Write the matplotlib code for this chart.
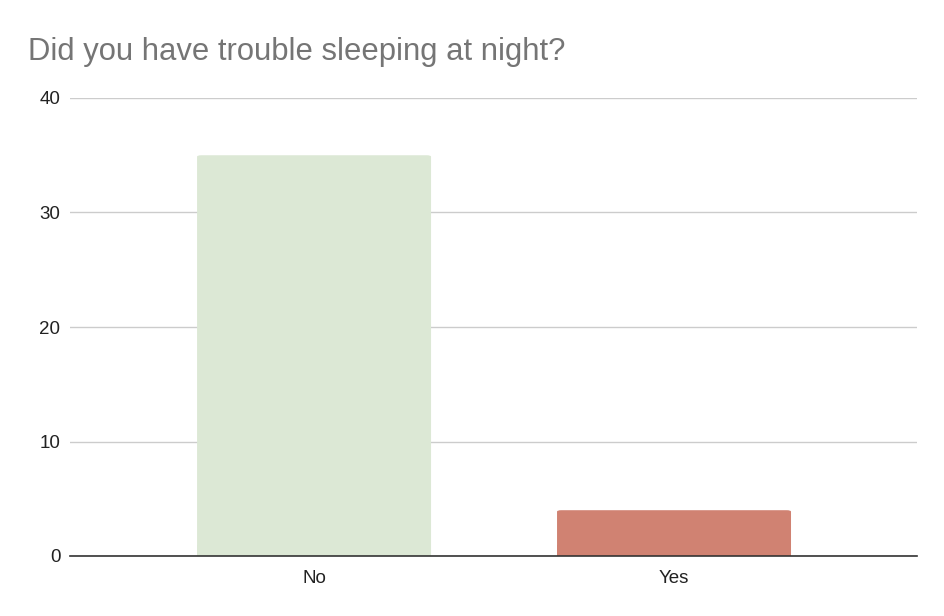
import matplotlib
matplotlib.use("Agg")
import matplotlib.pyplot as plt
from matplotlib.patches import FancyBboxPatch

categories = ["No", "Yes"]
values = [35, 4]
colors = ["#dce8d5", "#d08272"]
yticks = [0, 10, 20, 30, 40]

plt.rcParams['font.family'] = ['Liberation Sans', 'DejaVu Sans']

fig = plt.figure(figsize=(9.44, 6.16), dpi=100)
ax = fig.add_axes([70/944, 1 - 556/616, 847/944, 458/616])

x = list(range(len(categories)))
bars = ax.bar(x, values, width=0.65, color=colors, zorder=3)
# rounded top corners
for b in bars:
    b.set_visible(False)
    bb = FancyBboxPatch((b.get_x(), b.get_y()), b.get_width(), b.get_height(),
                        boxstyle="round,pad=0,rounding_size=0.012",
                        mutation_aspect=10,
                        facecolor=b.get_facecolor(), edgecolor='none', zorder=3)
    ax.add_patch(bb)
    ax.add_patch(plt.Rectangle((b.get_x(), 0), b.get_width(), min(1, b.get_height()),
                               facecolor=b.get_facecolor(), edgecolor='none', zorder=3))

ax.set_xlim(-0.678, 1.675)
ax.set_ylim(0, 40)
ax.set_yticks(yticks)
ax.set_xticks(x)
ax.set_xticklabels(categories)
ax.grid(axis='y', color='#cccccc', linewidth=1, zorder=0)
for s in ['top', 'right', 'left']:
    ax.spines[s].set_visible(False)
ax.spines['bottom'].set_color('#333333')
ax.spines['bottom'].set_linewidth(1.2)
ax.spines['bottom'].set_zorder(4)
ax.tick_params(axis='both', length=0, labelsize=13.5, colors='#222222')
ax.tick_params(axis='y', pad=7)
ax.tick_params(axis='x', pad=10)

fig.text(28/944, 1 - 60/616, "Did you have trouble sleeping at night?",
         fontsize=22.3, color='#757575', ha='left', va='baseline')

fig.savefig("out.png", dpi=100)
